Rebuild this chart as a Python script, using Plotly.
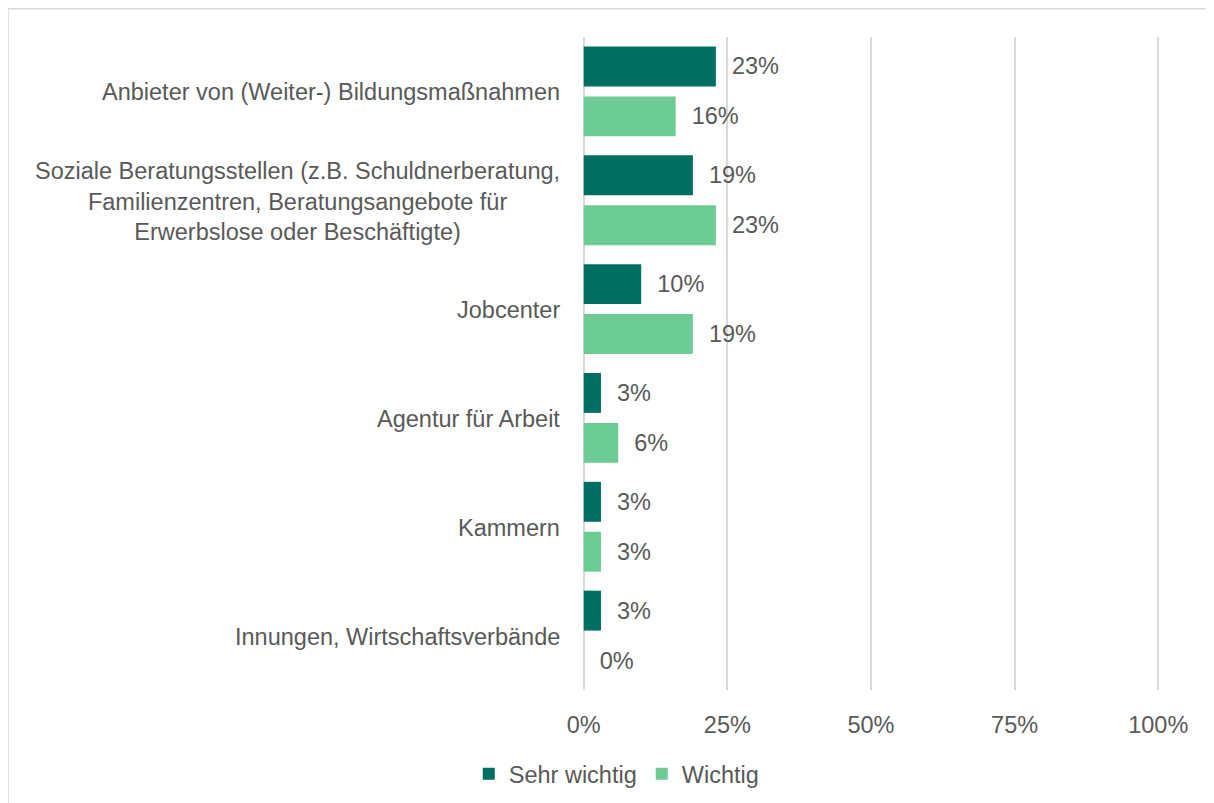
import plotly.graph_objects as go

categories = [
    "Anbieter von (Weiter-) Bildungsmaßnahmen",
    "Soziale Beratungsstellen (z.B. Schuldnerberatung,<br>Familienzentren, Beratungsangebote für<br>Erwerbslose oder Beschäftigte)",
    "Jobcenter",
    "Agentur für Arbeit",
    "Kammern",
    "Innungen, Wirtschaftsverbände",
]
sehr_wichtig = [23, 19, 10, 3, 3, 3]
wichtig = [16, 23, 19, 6, 3, 0]
x_ticks = [0, 25, 50, 75, 100]
x_ticklabels = ["0%", "25%", "50%", "75%", "100%"]

DARK = "#006F62"
LIGHT = "#6DCB96"
TXT = "#595959"
FONT = "Liberation Sans, Arial, sans-serif"
FS = 23.5

# page body has an 8px margin; work in absolute page pixels, convert to figure pixels
OFF = 8
PAD = 0.3  # range padding so edge gridlines are drawn
SCALE = (1158 - 584) / 100.0
W, H = 1214 - OFF, 803 - OFF
L = 584 - PAD * SCALE - OFF
R = 1158 + PAD * SCALE - OFF
T, B = 37 - OFF, 690 - OFF

fig = go.Figure()
for name, vals, col in [("Sehr wichtig", sehr_wichtig, DARK), ("Wichtig", wichtig, LIGHT)]:
    fig.add_trace(go.Bar(
        y=categories, x=vals, name=name, orientation="h",
        marker=dict(color=col, line=dict(width=0)),
        text=[f"\u00a0\u00a0{v}%" for v in vals],
        textposition="outside", cliponaxis=False,
        textfont=dict(family=FONT, size=FS, color=TXT),
    ))

for c in categories:
    fig.add_annotation(x=0, y=c, xref="x", yref="y", text=c, showarrow=False,
                       xanchor="right", yanchor="middle", align="center",
                       xshift=-22, yshift=-1,
                       font=dict(family=FONT, size=FS, color=TXT))

pw, ph = R - L, B - T
def px(x):
    return (x - OFF - L) / pw
def py(y):
    return (B - (y - OFF)) / ph

fig.add_shape(type="rect", xref="paper", yref="paper",
              x0=px(8.8), x1=px(1240), y0=py(830), y1=py(8.8),
              line=dict(color="#D9D9D9", width=1.5), fillcolor="rgba(0,0,0,0)", layer="below")

fig.update_layout(
    width=W, height=H, autosize=False,
    margin=dict(l=L, r=W - R, t=T, b=H - B, pad=0, autoexpand=False),
    barmode="group", bargap=0.083, bargroupgap=0.2,
    plot_bgcolor="white", paper_bgcolor="white",
    font=dict(family=FONT, size=FS, color=TXT),
    showlegend=True,
    legend=dict(orientation="h", x=px(617), xanchor="center", y=py(774), yanchor="middle",
                font=dict(family=FONT, size=FS, color=TXT), traceorder="normal"),
    xaxis=dict(range=[-PAD, 100 + PAD], tickvals=x_ticks, ticktext=x_ticklabels,
               showgrid=True, gridcolor="#D9D9D9", gridwidth=1.5,
               zeroline=False, showline=False, ticks="outside", ticklen=14,
               tickcolor="rgba(0,0,0,0)", tickfont=dict(family=FONT, size=FS, color=TXT),
               fixedrange=True, automargin=False),
    yaxis=dict(autorange="reversed", showticklabels=False, showgrid=False,
               zeroline=False, showline=False, fixedrange=True, automargin=False),
)

fig.write_html("out.html")
